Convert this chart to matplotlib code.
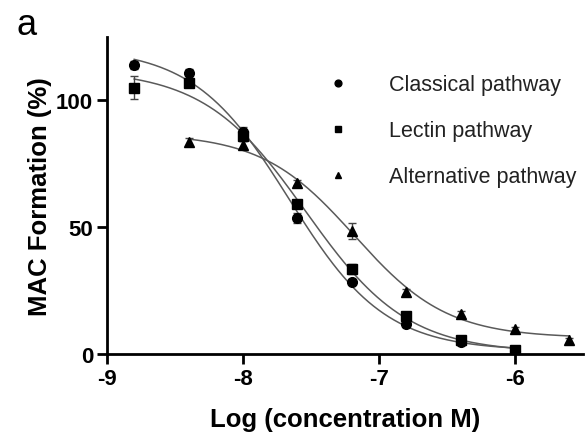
import numpy as np
import matplotlib
matplotlib.use("Agg")
import matplotlib.pyplot as plt

plt.rcParams['font.family'] = ['Liberation Sans', 'DejaVu Sans']

# ---- data ----
log_conc = [-8.8, -8.4, -8.0, -7.6, -7.2, -6.8, -6.4, -6.0]
classical = [114, 111, 87.5, 53.5, 28.5, 11.8, 4.7, 1.2]
classical_err = [1.5, 1.5, 2.0, 2.0, 1.0, 1.0, 1.0, 1.0]
lectin = [105, 107, 86, 59, 33.5, 15, 5.5, 1.5]
lectin_err = [4.5, 1.5, 2.0, 1.5, 2.0, 1.0, 1.0, 1.0]
log_conc_alt = [-8.4, -8.0, -7.6, -7.2, -6.8, -6.4, -6.0, -5.6]
alternative = [83.5, 82.5, 67.5, 48.5, 24.5, 15.8, 9.8, 5.5]
alternative_err = [1.5, 1.5, 1.0, 3.0, 1.0, 1.0, 1.0, 1.0]

labels = ["Classical pathway", "Lectin pathway", "Alternative pathway"]
xticks = [-9, -8, -7, -6]
yticks = [0, 50, 100]


def fit4pl(x, y):
    """Four-parameter logistic fit: grid over (logIC50, hill), linear top/bottom."""
    x = np.asarray(x, float)
    y = np.asarray(y, float)
    cs = np.linspace(-8.8, -6.2, 261)[:, None, None]
    hs = np.linspace(0.3, 3.0, 271)[None, :, None]
    f = 1.0 / (1.0 + 10 ** ((x[None, None, :] - cs) * hs))
    g = 1.0 - f
    a11 = (f * f).sum(-1); a12 = (f * g).sum(-1); a22 = (g * g).sum(-1)
    b1 = (f * y).sum(-1); b2 = (g * y).sum(-1)
    det = a11 * a22 - a12 ** 2
    det = np.where(np.abs(det) < 1e-12, 1e-12, det)
    top = (a22 * b1 - a12 * b2) / det
    bot = (a11 * b2 - a12 * b1) / det
    pred = top[..., None] * f + bot[..., None] * g
    sse = ((pred - y) ** 2).sum(-1)
    i, j = np.unravel_index(np.argmin(sse), sse.shape)
    return cs[i, 0, 0], hs[0, j, 0], top[i, j], bot[i, j]


def curve(params, xs):
    c, h, top, bot = params
    f = 1.0 / (1.0 + 10 ** ((xs - c) * h))
    return top * f + bot * (1 - f)


fig = plt.figure(figsize=(5.85, 4.35), dpi=100)
ax = fig.add_axes([107 / 585, 1 - 355 / 435, (583 - 107) / 585, (355 - 38) / 435])

series = [
    (log_conc, classical, classical_err, 'o', 7.0),
    (log_conc, lectin, lectin_err, 's', 6.5),
    (log_conc_alt, alternative, alternative_err, '^', 7.0),
]

handles = []
for (xv, yv, ev, mk, ms), lab in zip(series, labels):
    p = fit4pl(xv, yv)
    xs = np.linspace(min(xv), max(xv), 300)
    ax.plot(xs, curve(p, xs), color='#5a5a5a', lw=1.1, zorder=2)
    ax.errorbar(xv, yv, yerr=ev, fmt='none', ecolor='#444444', elinewidth=1.0,
                capsize=3, capthick=1.0, zorder=3)
    h, = ax.plot(xv, yv, linestyle='none', marker=mk, ms=ms, color='black',
                 zorder=4, label=lab)
    handles.append(h)

ax.set_xlim(-9, -5.5)
ax.set_ylim(0, 125)
ax.set_xticks(xticks)
ax.set_yticks(yticks)
ax.set_xticklabels([str(t) for t in xticks])
for s in ['top', 'right']:
    ax.spines[s].set_visible(False)
for s in ['left', 'bottom']:
    ax.spines[s].set_linewidth(2.0)
ax.tick_params(axis='both', direction='out', length=7, width=2.0,
               labelsize=16, pad=3)
for t in ax.get_xticklabels() + ax.get_yticklabels():
    t.set_fontweight('bold')

ax.set_xlabel("Log (concentration M)", fontsize=18.5, fontweight='bold', labelpad=13)
ax.set_ylabel("MAC Formation (%)", fontsize=18.5, fontweight='bold', labelpad=3)

leg = ax.legend(handles=handles, loc='upper left', bbox_to_anchor=(0.462, 0.883),
                frameon=False, fontsize=15.5, markerscale=0.7, handlelength=1.0,
                handletextpad=1.9, labelspacing=1.17, borderpad=0, borderaxespad=0)
for t in leg.get_texts():
    t.set_color('#222222')

fig.text(17 / 585, 1 - 35 / 435, "a", fontsize=26, ha='left', va='baseline')

fig.savefig("out.png", dpi=100)
